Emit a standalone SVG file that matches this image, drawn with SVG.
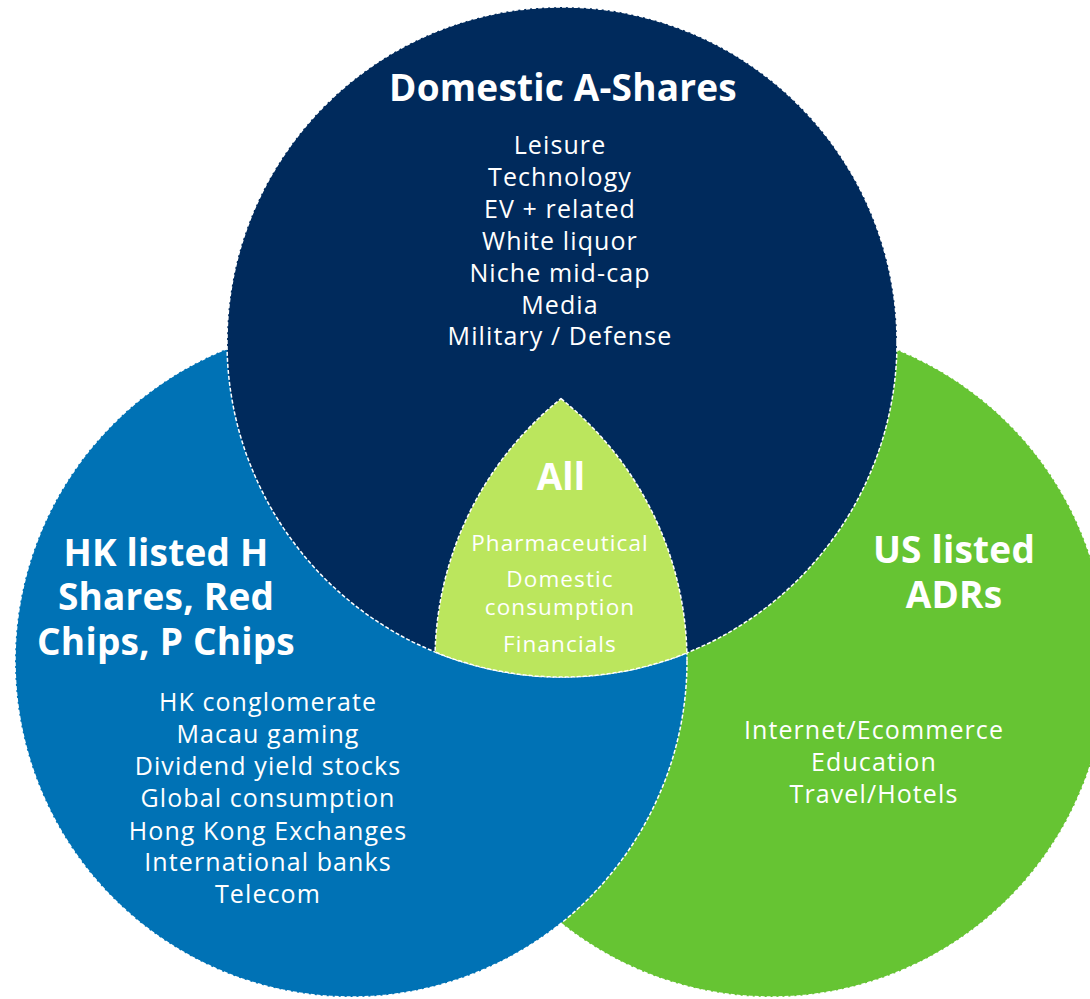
<svg xmlns="http://www.w3.org/2000/svg" width="1090" height="999" viewBox="0 0 1090 999">
  <style>
    .ring { stroke: #ffffff; stroke-width: 1.5; stroke-dasharray: 4 2; }
    .head { font-family: "Open Sans", "Noto Sans", "Liberation Sans", sans-serif; font-weight: 700; font-size: 37px; letter-spacing: 0.2px; fill: #ffffff; text-anchor: middle; }
    .item { font-family: "Open Sans", "Noto Sans", "Liberation Sans", sans-serif; font-weight: 400; font-size: 25px; letter-spacing: 1.1px; fill: #ffffff; text-anchor: middle; }
    .core { font-family: "Open Sans", "Noto Sans", "Liberation Sans", sans-serif; font-weight: 400; font-size: 22.5px; letter-spacing: 1.1px; fill: #ffffff; text-anchor: middle; }
  </style>
  <rect width="1090" height="999" fill="#ffffff"/>

  <!-- US listed ADRs (right) -->
  <g id="us-adrs">
    <circle class="ring" cx="771" cy="661" r="336" fill="#66C433"/>
  </g>

  <!-- HK listed shares (left) -->
  <g id="hk-listed">
    <circle class="ring" cx="351" cy="661" r="336" fill="#0072B5"/>
  </g>

  <!-- Domestic A-Shares (top) -->
  <g id="a-shares">
    <circle class="ring" cx="562" cy="342" r="335" fill="#002A5C"/>
  </g>

  <!-- Overlap of all three sets -->
  <g id="all">
    <path class="ring" fill="#BBE65D" d="M 561 398.7 A 336 336 0 0 1 686.9 652.9 A 335 335 0 0 1 435.1 652.0 A 336 336 0 0 1 561 398.7 Z"/>
  </g>

  <!-- Labels -->
  <g id="a-shares-text">
    <text class="head" x="563" y="101">Domestic A-Shares</text>
    <text class="item" x="560" y="154">Leisure</text>
    <text class="item" x="560" y="186">Technology</text>
    <text class="item" x="560" y="218">EV + related</text>
    <text class="item" x="560" y="250">White liquor</text>
    <text class="item" x="560" y="282">Niche mid-cap</text>
    <text class="item" x="560" y="314">Media</text>
    <text class="item" x="560" y="345">Military / Defense</text>
  </g>

  <g id="hk-listed-text">
    <text class="head" x="166" y="566">HK listed H</text>
    <text class="head" x="166" y="610">Shares, Red</text>
    <text class="head" x="166" y="655">Chips, P Chips</text>
    <text class="item" x="268" y="711">HK conglomerate</text>
    <text class="item" x="268" y="743">Macau gaming</text>
    <text class="item" x="268" y="775">Dividend yield stocks</text>
    <text class="item" x="268" y="807">Global consumption</text>
    <text class="item" x="268" y="840">Hong Kong Exchanges</text>
    <text class="item" x="268" y="871">International banks</text>
    <text class="item" x="268" y="903">Telecom</text>
  </g>

  <g id="us-adrs-text">
    <text class="head" x="954" y="563">US listed</text>
    <text class="head" x="954" y="608">ADRs</text>
    <text class="item" x="874" y="739">Internet/Ecommerce</text>
    <text class="item" x="874" y="771">Education</text>
    <text class="item" x="874" y="803">Travel/Hotels</text>
  </g>

  <g id="all-text">
    <text class="head" x="561" y="490">All</text>
    <text class="core" x="560" y="551">Pharmaceutical</text>
    <text class="core" x="560" y="587">Domestic</text>
    <text class="core" x="560" y="615">consumption</text>
    <text class="core" x="560" y="652">Financials</text>
  </g>
</svg>
